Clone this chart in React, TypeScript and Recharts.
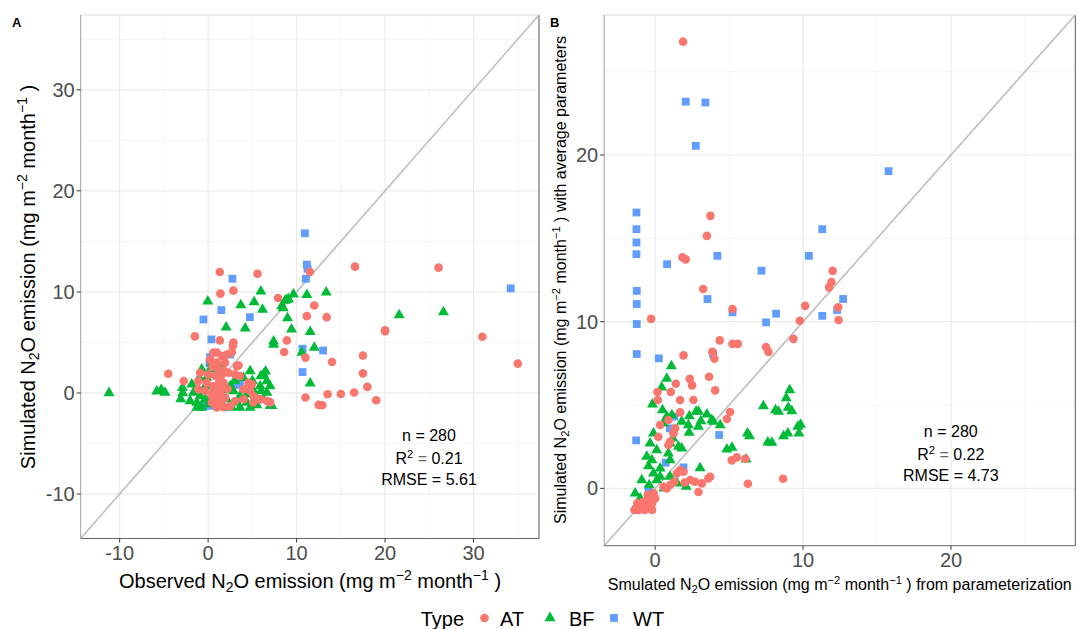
import React from 'react'
import { ScatterChart, Scatter, XAxis, YAxis, CartesianGrid, ReferenceLine } from 'recharts'

const FONT = "Arial, 'Liberation Sans', sans-serif"
const AT_COLOR = '#F8766D'
const BF_COLOR = '#00BA38'
const WT_COLOR = '#619CFF'

// panel A: observed vs simulated
const aDomain: [number, number] = [-14.4, 37.4]
const aMajorTicks = [-10, 0, 10, 20, 30]
const aMinorTicks = [-5, 5, 15, 25, 35]

const aWT: [number, number][] = [
  [10.94, 15.8], [11.16, 12.7], [11.24, 12.3], [11.05, 11.3], [2.75, 11.3], [34.2, 10.35],
  [-0.53, 7.27], [1.5, 8.2], [4.72, 7.5], [0.37, 5.3], [10.67, 4.38], [13.0, 4.2],
  [10.67, 2.07], [0.23, 3.55], [0.15, 2.93], [2.49, 3.8], [3.13, 0.8], [-0.9, -1.38],
  [-0.53, -1.28], [0.23, -1.28], [3.6, 0.86], [0.5, -1.2], [1.2, 2.2]
]

const aBF: [number, number][] = [
  [13.35, 9.96], [11.16, 9.7], [9.65, 9.77], [9.08, 9.3], [8.7, 9.14], [8.33, 8.6],
  [21.6, 7.7], [26.6, 8.0], [8.97, 7.4], [9.43, 6.3], [11.54, 6.05], [10.6, 4.0],
  [12.0, 4.5], [11.54, 0.96], [-11.2, 0], [-5.8, 0.17], [-5.3, 0.3], [-4.87, 0.04],
  [-2.9, 0.5], [-2.87, 0], [-3.1, -0.6], [-0.04, 9.07], [3.7, 8.7], [5.2, 9.0],
  [5.96, 10.06], [6.15, 8.25], [8.9, 9.24], [8.5, 8.4], [2.04, 6.5], [4.19, 6.4],
  [7.4, 5.1], [7.4, 4.8], [4.75, 2.17], [6.5, 2.14], [5.96, 1.68], [7.0, -1.28],
  [-1.85, 0.86], [-1.66, 0.04], [-2.04, -0.79], [-1.28, -0.95], [-0.9, -0.3], [-0.53, 0.37],
  [-0.72, 2.34], [-0.15, 1.52], [0.42, 3.0], [0.6, 2.83], [0.23, 2.34], [0.03, 0.69],
  [-0.34, -0.62], [0.03, -1.1], [0.42, -0.13], [-1.28, -1.44], [-0.72, -1.44], [6.26, 1.84],
  [6.64, 1.18], [7.0, 0.69], [5.88, 0.69], [5.13, 0.2], [4.38, -0.13], [3.6, -0.3],
  [2.86, 0.2], [2.49, 0.69], [2.11, -0.62], [3.25, -0.95], [4.38, -0.95], [5.5, -0.62],
  [6.64, 0.04], [7.2, -1.28], [6.26, -0.62], [4.75, -1.44], [2.68, -1.44], [3.6, -1.44],
  [1.2, 1.0], [1.8, 0.3], [1.0, -0.5], [5.0, 1.2], [4.0, 1.5], [3.0, 1.2],
  [-1.0, 1.5], [1.5, 2.6], [6.0, 0.2], [5.5, -1.2]
]

const aAT: [number, number][] = [
  [11.5, 12.0], [16.6, 12.5], [26.05, 12.4], [12.0, 8.65], [11.16, 7.6], [13.4, 7.5],
  [20.0, 6.2], [20.0, 6.1], [31.0, 5.56], [8.9, 5.2], [8.6, 4.05], [11.0, 3.5],
  [14.0, 3.06], [35.0, 2.9], [17.5, 3.7], [17.5, 1.94], [18.0, 0.6], [16.5, 0.04],
  [15.0, -0.1], [13.5, -0.13], [19.0, -0.72], [11.0, -0.45], [12.5, -1.18], [12.9, -1.21],
  [-4.5, 1.9], [-2.75, 1.18], [-1.5, 5.6], [1.32, 11.97], [5.58, 11.8], [1.39, 9.83],
  [2.86, 10.13], [7.9, 9.4], [1.32, 5.2], [2.86, 5.0], [2.8, 4.64], [3.43, 2.73],
  [7.0, -0.9], [5.9, -0.62], [5.1, -0.95], [0.6, 4.0], [0.98, 4.0], [1.55, 3.65],
  [2.1, 3.8], [2.68, 4.0], [0.23, 3.3], [0.98, 3.0], [1.92, 3.0], [3.25, 2.66],
  [-0.9, 2.0], [0.03, 1.84], [0.79, 1.68], [1.55, 1.84], [2.3, 2.0], [3.05, 1.84],
  [3.6, 1.68], [-1.1, 1.18], [-0.15, 1.0], [0.6, 0.67], [1.17, 0.86], [1.74, 1.0],
  [-1.1, 0.37], [-0.34, 0.2], [0.6, 0.04], [1.36, -0.13], [0.98, -0.62], [0.79, -1.1],
  [0.98, -1.44], [0.42, -0.95], [1.36, -0.95], [1.92, -0.46], [1.55, -1.28], [4.56, 1.0],
  [4.94, 0.86], [4.0, 0.37], [4.75, 0.2], [5.13, -0.3], [5.88, -0.62], [3.05, -0.79],
  [4.0, -0.62], [6.64, -0.79], [7.0, -0.95], [1.2, 2.4], [0.5, 2.6], [1.8, 2.2],
  [1.1, -0.2], [0.7, 0.3], [1.6, 0.5], [1.3, 1.3], [2.2, 0.4], [0.4, -0.3],
  [1.0, 0.1], [1.5, -0.6], [2.5, -1.3], [1.8, -1.4]
]

// panel B: parameterized vs average-parameter simulation
const bDomain: [number, number] = [-3.44, 28.4]
const bMajorTicks = [0, 10, 20]
const bMinorTicks = [5, 15, 25]

const bWT: [number, number][] = [
  [2.07, 23.2], [3.4, 23.15], [2.75, 20.55], [-1.26, 16.55], [-1.26, 15.55], [-1.26, 14.75],
  [-1.26, 14.05], [4.21, 13.95], [0.81, 13.45], [7.19, 13.06], [11.3, 15.55], [10.39, 13.95],
  [-1.24, 11.85], [-1.24, 11.06], [-1.24, 9.86], [-1.24, 8.06], [3.54, 11.36], [5.23, 10.56],
  [8.18, 10.48], [7.5, 9.96], [11.3, 10.35], [12.3, 10.7], [15.78, 19.03], [12.71, 11.36],
  [3.92, 8.06], [0.25, 7.8], [4.33, 3.2], [-1.28, 2.88], [1.3, 4.3], [0.72, 1.54],
  [1.92, 1.26], [-0.45, 0], [1.0, 3.6]
]

const bBF: [number, number][] = [
  [1.1, 7.34], [0.79, 6.58], [0.45, 6.06], [9.1, 5.9], [8.86, 5.42], [7.32, 4.94],
  [8.14, 4.7], [8.34, 4.6], [9.0, 4.84], [9.24, 4.64], [9.83, 3.82], [9.65, 3.7],
  [9.72, 3.3], [6.24, 3.3], [6.38, 3.14], [7.62, 2.76], [7.89, 2.74], [8.68, 3.14],
  [8.97, 3.3], [4.85, 2.34], [5.2, 2.44], [6.15, 1.74], [4.4, 3.8], [3.94, 4.0],
  [3.04, 1.22], [-0.18, 5.04], [0.79, 4.3], [0.56, 3.9], [1.13, 4.4], [2.32, 4.34],
  [2.25, 3.8], [2.3, 3.34], [2.93, 4.6], [2.77, 4.6], [3.5, 4.44], [3.09, 4.04],
  [2.93, 3.7], [3.83, 4.1], [-0.11, 3.3], [-0.34, 2.7], [0.11, 2.3], [-0.56, 1.9],
  [-0.22, 1.7], [-0.45, 1.34], [1.01, 2.7], [1.58, 2.5], [1.8, 2.4], [0.9, 2.1],
  [1.01, 1.7], [0.34, 1.2], [-0.9, 0.5], [0.11, 0.5], [-0.11, 0.9], [1.01, 0.7],
  [0.34, 0.7], [-1.35, -0.3], [-1.01, -0.6], [0.5, 4.7], [1.2, 3.0], [-0.4, 0.2],
  [0.6, 0.0], [1.5, 0.3], [2.1, 0.1], [1.8, 4.0]
]

const bAT: [number, number][] = [
  [1.89, 26.8], [3.74, 16.35], [3.5, 15.15], [1.85, 13.86], [2.07, 13.74], [3.25, 11.96],
  [5.23, 10.76], [-0.27, 10.17], [9.78, 10.06], [10.14, 10.95], [12.0, 13.05], [11.92, 12.38],
  [11.76, 12.06], [12.37, 10.86], [12.4, 10.1], [9.35, 8.97], [4.37, 8.88], [5.23, 8.67],
  [5.59, 8.67], [7.5, 8.48], [7.66, 8.18], [3.87, 8.2], [4.01, 7.78], [1.92, 7.98],
  [2.34, 6.57], [2.5, 6.18], [3.65, 6.7], [4.06, 5.88], [1.4, 6.28], [1.06, 5.78],
  [0.16, 5.78], [0.18, 5.3], [1.69, 5.3], [2.59, 5.3], [1.69, 4.56], [0.34, 3.8],
  [0.9, 4.1], [1.35, 3.6], [1.24, 3.3], [1.01, 2.8], [0.9, 2.6], [0.22, 3.1],
  [5.18, 1.68], [5.52, 1.86], [6.1, 1.78], [5.07, 4.58], [4.85, 4.16], [6.27, 0.28],
  [8.65, 0.58], [2.93, -0.22], [2.37, 0.5], [2.7, 0.4], [3.16, 0.3], [3.6, 0.6],
  [3.72, 0.7], [1.69, 1.1], [1.92, 1.0], [1.47, 0.9], [0.56, 0.1], [1.01, 0.2],
  [0.79, 0], [2.0, 0.35], [1.3, 0.4], [-1.3, -1.2], [-1.1, -1.3], [-0.9, -1.2],
  [-0.7, -1.3], [-0.5, -1.1], [-0.3, -1.2], [-0.2, -0.9], [-0.4, -0.7], [-0.6, -0.9],
  [-0.8, -0.8], [-1.0, -1.0], [-1.2, -0.9], [-0.3, -0.5], [-0.1, -0.3], [-0.5, -0.4],
  [-0.2, -1.3], [-1.4, -1.3], [0.0, -0.6]
]

const toPoints = (arr: [number, number][]) => arr.map(([x, y]) => ({ x, y }))

const Circle = (props: any) => <circle cx={props.cx} cy={props.cy} r={4.3} fill={AT_COLOR} />
const Triangle = (props: any) => {
  const { cx, cy } = props
  const s = 11
  const h = (s * Math.sqrt(3)) / 2
  return (
    <polygon
      points={`${cx},${cy - (2 * h) / 3} ${cx - s / 2},${cy + h / 3} ${cx + s / 2},${cy + h / 3}`}
      fill={BF_COLOR}
    />
  )
}
const Square = (props: any) => (
  <rect x={props.cx - 3.9} y={props.cy - 3.9} width={7.8} height={7.8} fill={WT_COLOR} />
)

const tickStyle = { fill: '#4D4D4D', fontSize: 20, fontFamily: FONT }

interface PanelProps {
  width: number
  height: number
  margin: { top: number; right: number; bottom: number; left: number }
  yAxisWidth: number
  domain: [number, number]
  majorTicks: number[]
  minorTicks: number[]
  at: [number, number][]
  bf: [number, number][]
  wt: [number, number][]
}

function Panel(p: PanelProps) {
  const [lo, hi] = p.domain
  return (
    <ScatterChart width={p.width} height={p.height} margin={p.margin}>
      <CartesianGrid
        stroke="#F3F3F3"
        strokeWidth={0.8}
        verticalValues={p.minorTicks}
        horizontalValues={p.minorTicks}
      />
      <CartesianGrid
        stroke="#EBEBEB"
        strokeWidth={1.2}
        verticalValues={p.majorTicks}
        horizontalValues={p.majorTicks}
      />
      <XAxis
        type="number"
        dataKey="x"
        domain={p.domain}
        allowDataOverflow
        ticks={p.majorTicks}
        height={40}
        tick={tickStyle}
        tickSize={4}
        tickMargin={3}
        tickLine={{ stroke: '#333' }}
        axisLine={{ stroke: '#666' }}
      />
      <YAxis
        type="number"
        dataKey="y"
        domain={p.domain}
        allowDataOverflow
        ticks={p.majorTicks}
        width={p.yAxisWidth}
        tick={tickStyle}
        tickSize={4}
        tickMargin={2}
        tickLine={{ stroke: '#333' }}
        axisLine={{ stroke: '#A0A0A0' }}
      />
      <ReferenceLine y={hi} stroke="#DDDDDD" ifOverflow="visible" />
      <ReferenceLine x={hi} stroke="#555555" ifOverflow="visible" />
      <Scatter data={toPoints(p.wt)} shape={Square} isAnimationActive={false} />
      <Scatter data={toPoints(p.bf)} shape={Triangle} isAnimationActive={false} />
      <Scatter data={toPoints(p.at)} shape={Circle} isAnimationActive={false} />
      <ReferenceLine
        segment={[{ x: lo, y: lo }, { x: hi, y: hi }]}
        stroke="#BEBEBE"
        strokeWidth={1.6}
        ifOverflow="visible"
      />
    </ScatterChart>
  )
}

const sub = { fontSize: '0.7em', verticalAlign: '-0.25em', lineHeight: 0 }
const sup = { fontSize: '0.7em', verticalAlign: '0.55em', lineHeight: 0 }

function Units() {
  return (
    <>
      N<span style={sub}>2</span>O emission (mg m<span style={sup}>−2</span> month
      <span style={sup}>−1</span> )
    </>
  )
}

function Title({ cx, cy, size, rotate, children }: any) {
  return (
    <div
      style={{
        position: 'absolute',
        left: cx,
        top: cy,
        transform: `translate(-50%, -50%)${rotate ? ' rotate(-90deg)' : ''}`,
        whiteSpace: 'nowrap',
        fontSize: size,
        lineHeight: 1,
        color: '#000'
      }}
    >
      {children}
    </div>
  )
}

function Stats({ cx, top, n, r2, rmse }: any) {
  const row = { textAlign: 'center' as const, whiteSpace: 'nowrap' as const }
  return (
    <div style={{ position: 'absolute', left: cx, top, transform: 'translateX(-50%)', fontSize: 16, lineHeight: '23px' }}>
      <div style={row}>n = {n}</div>
      <div style={row}>
        R<span style={sup}>2</span> <span style={{ color: '#666' }}>=</span> {r2}
      </div>
      <div style={{ ...row, lineHeight: '20px' }}>RMSE = {rmse}</div>
    </div>
  )
}

export default function App() {
  return (
    <div
      style={{
        position: 'absolute',
        left: 0,
        top: 0,
        width: 1078,
        height: 629,
        background: '#fff',
        fontFamily: FONT,
        overflow: 'hidden'
      }}
    >
      <div style={{ position: 'absolute', left: 0, top: 0 }}>
        <Panel
          width={540}
          height={629}
          margin={{ top: 15, right: 1, bottom: 50.5, left: 0 }}
          yAxisWidth={80.7}
          domain={aDomain}
          majorTicks={aMajorTicks}
          minorTicks={aMinorTicks}
          at={aAT}
          bf={aBF}
          wt={aWT}
        />
      </div>
      <div style={{ position: 'absolute', left: 540, top: 0 }}>
        <Panel
          width={538}
          height={629}
          margin={{ top: 15, right: 2.7, bottom: 43.3, left: 0 }}
          yAxisWidth={64.2}
          domain={bDomain}
          majorTicks={bMajorTicks}
          minorTicks={bMinorTicks}
          at={bAT}
          bf={bBF}
          wt={bWT}
        />
      </div>

      <div style={{ position: 'absolute', left: 12, top: 15, fontSize: 13, fontWeight: 'bold' }}>A</div>
      <div style={{ position: 'absolute', left: 550, top: 15, fontSize: 13, fontWeight: 'bold' }}>B</div>

      <Title cx={27.6} cy={276.75} size={20} rotate>
        Simulated <Units />
      </Title>
      <Title cx={310} cy={581} size={20}>
        Observed <Units />
      </Title>
      <Title cx={560.6} cy={280} size={16} rotate>
        Simulated <Units /> with average parameters
      </Title>
      <Title cx={839.8} cy={585} size={16}>
        Smulated <Units /> from parameterization
      </Title>

      <Stats cx={429} top={424} n={280} r2="0.21" rmse="5.61" />
      <Stats cx={950.8} top={420} n={280} r2="0.22" rmse="4.73" />

      <div style={{ position: 'absolute', left: 420.7, top: 608, fontSize: 20, lineHeight: '23px' }}>Type</div>
      <svg style={{ position: 'absolute', left: 474, top: 608 }} width={22} height={22}>
        <circle cx={10.5} cy={10} r={4.3} fill={AT_COLOR} />
      </svg>
      <div style={{ position: 'absolute', left: 500, top: 608, fontSize: 20, lineHeight: '23px' }}>AT</div>
      <svg style={{ position: 'absolute', left: 539, top: 608 }} width={22} height={22}>
        <polygon points="11,3.6 5.5,13.2 16.5,13.2" fill={BF_COLOR} />
      </svg>
      <div style={{ position: 'absolute', left: 569, top: 608, fontSize: 20, lineHeight: '23px' }}>BF</div>
      <svg style={{ position: 'absolute', left: 603, top: 608 }} width={22} height={22}>
        <rect x={7.1} y={6.1} width={7.8} height={7.8} fill={WT_COLOR} />
      </svg>
      <div style={{ position: 'absolute', left: 633, top: 608, fontSize: 20, lineHeight: '23px' }}>WT</div>
    </div>
  )
}
